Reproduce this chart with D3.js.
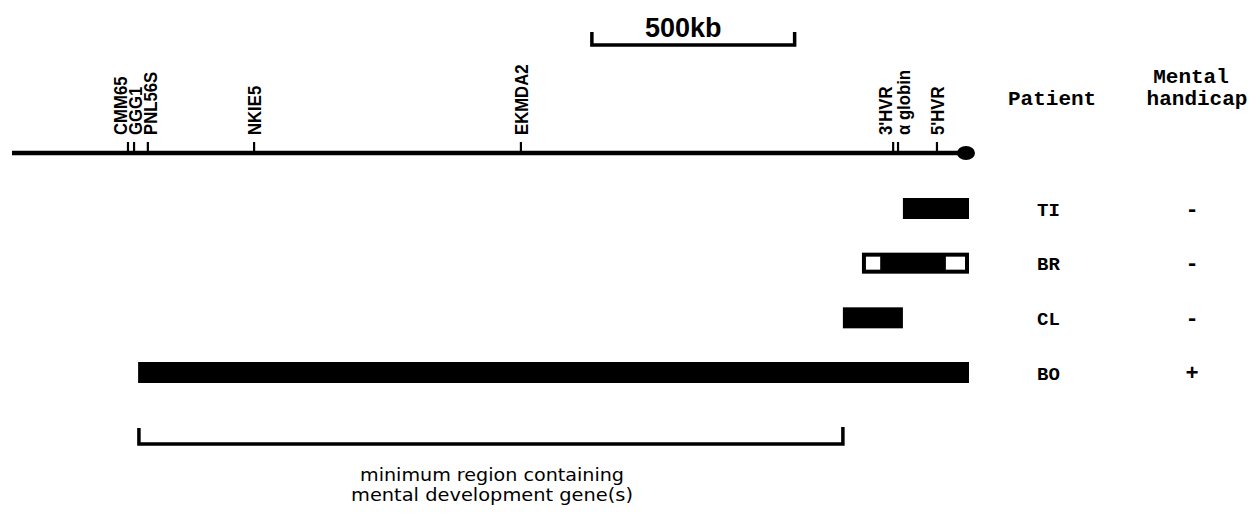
<!DOCTYPE html>
<html><head><meta charset="utf-8">
<script src="https://cdn.jsdelivr.net/npm/d3@7"></script>
<style>body{margin:0;background:#fff}</style>
</head><body>
<svg id="chart" width="1252" height="514"></svg>
<script>
// ---- data (kb measured from the 16p telomere) ----
const markerNames = ["CMM65","GGG1","PNL56S","NKIE5","EKMDA2","3'HVR","α globin","5'HVR"];
const markerKb    = [2074, 2059, 2025, 1763, 1105, 187, 175, 79];
const patients    = ["TI","BR","CL","BO"];
const delStartKb  = [163, 264, 311, 2049];
const delEndKb    = [0, 0, 163, 0];
const mentalHandicap = ["-","-","-","+"];
const brUncertainKb = [[264, 219], [57, 0]];
const minRegionKb = [2047, 311];
const scaleBarKb  = [930, 430];
const scaleBarLabel = "500kb";
const regionLabel = ["minimum region containing", "mental development gene(s)"];

// ---- layout ----
const svg = d3.select("#chart");
const x = d3.scaleLinear().domain([2360, 0]).range([12, 969]);
const y = d3.scalePoint().domain(patients).range([208.5, 372.5]);
const lineY = 153, barH = 21, stroke = "#000";
const labelDx = [-8, 1, 2, 0, 0, -8, 5, 0];
const regionTextLen = [264, 282];

// chromosome line
svg.append("line").attr("x1", x(2360)).attr("x2", x(0) - 3)
  .attr("y1", lineY).attr("y2", lineY).attr("stroke", stroke).attr("stroke-width", 4.5);
svg.append("ellipse").attr("cx", x(0) - 3).attr("cy", lineY).attr("rx", 9).attr("ry", 7).attr("fill", stroke);

// marker ticks & labels
const mk = svg.append("g");
markerNames.forEach((name, i) => {
  const mx = x(markerKb[i]);
  mk.append("line").attr("x1", mx).attr("x2", mx).attr("y1", lineY).attr("y2", lineY - 11)
    .attr("stroke", stroke).attr("stroke-width", 2.2);
  mk.append("text").attr("transform", `translate(${mx + labelDx[i]},135) rotate(-90) scale(0.88,1)`)
    .attr("dy", "0.36em").attr("text-anchor", "start")
    .style("font-family", "Liberation Sans, Arial, sans-serif").style("font-weight", "bold")
    .style("font-size", "19px").text(name);
});

// scale bar
const sb = svg.append("g");
sb.append("path")
  .attr("d", `M${x(scaleBarKb[0])},32 V45 H${x(scaleBarKb[1])} V32`)
  .attr("fill", "none").attr("stroke", stroke).attr("stroke-width", 3.5);
sb.append("text").attr("x", (x(scaleBarKb[0]) + x(scaleBarKb[1])) / 2 - 10).attr("y", 37)
  .attr("text-anchor", "middle")
  .style("font-family", "Liberation Sans, Arial, sans-serif").style("font-weight", "bold")
  .style("font-size", "27px").text(scaleBarLabel);

// deletion bars
const bars = svg.append("g");
patients.forEach((p, i) => {
  const x0 = x(delStartKb[i]), x1 = x(delEndKb[i]);
  bars.append("rect").attr("x", x0).attr("y", y(p) - barH / 2)
    .attr("width", x1 - x0).attr("height", barH).attr("fill", stroke);
  if (p === "BR") {
    brUncertainKb.forEach(([a, b]) => {
      const wx0 = Math.max(x(a), x0 + 4), wx1 = Math.min(x(b), x1 - 4);
      bars.append("rect").attr("x", wx0).attr("y", y(p) - barH / 2 + 4)
        .attr("width", wx1 - wx0).attr("height", barH - 8).attr("fill", "#fff");
    });
  }
});

// right-hand columns
const mono = "Liberation Mono, Courier New, monospace";
svg.append("text").attr("x", 1008).attr("y", 105).style("font-family", mono)
  .style("font-weight", "bold").style("font-size", "21px").text("Patient");
svg.append("text").attr("x", 1191).attr("y", 83).attr("text-anchor", "middle").style("font-family", mono)
  .style("font-weight", "bold").style("font-size", "21px").text("Mental");
svg.append("text").attr("x", 1197).attr("y", 105).attr("text-anchor", "middle").style("font-family", mono)
  .style("font-weight", "bold").style("font-size", "21px").text("handicap");
patients.forEach((p, i) => {
  svg.append("text").attr("x", 1037).attr("y", y(p) + 7).style("font-family", mono)
    .style("font-weight", "bold").style("font-size", "19px").text(p);
  svg.append("text").attr("x", 1192).attr("y", y(p) + 7).attr("text-anchor", "middle").style("font-family", mono)
    .style("font-weight", "bold").style("font-size", "22px").text(mentalHandicap[i]);
});

// minimum region bracket
svg.append("path")
  .attr("d", `M${x(minRegionKb[0])},428 V444 H${x(minRegionKb[1])} V427`)
  .attr("fill", "none").attr("stroke", stroke).attr("stroke-width", 3.5);
regionLabel.forEach((t, i) => {
  svg.append("text").attr("x", 492).attr("y", 481 + i * 20).attr("text-anchor", "middle")
    .attr("textLength", regionTextLen[i]).attr("lengthAdjust", "spacingAndGlyphs")
    .style("font-family", "DejaVu Sans, sans-serif").style("font-size", "17px").text(t);
});
</script>
</body></html>
